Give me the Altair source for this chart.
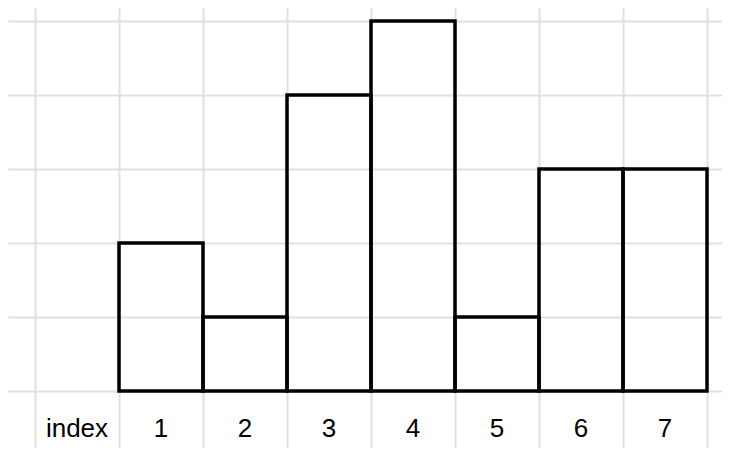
import altair as alt
import pandas as pd

# Data
indices = [1, 2, 3, 4, 5, 6, 7]
values = [2, 1, 4, 5, 1, 3, 3]
header_label = "index"
tick_labels = ["1", "2", "3", "4", "5", "6", "7"]

bars_df = pd.DataFrame({"index": indices, "value": values})
labels_df = pd.DataFrame({
    "col": list(range(len(tick_labels) + 1)),
    "label": [header_label] + tick_labels,
})

W, H = 714, 440
# scale domains chosen so that columns are 84px wide and rows 74px tall
x_scale = alt.Scale(domain=[(8 - 35) / 84, (722 - 35) / 84], nice=False, zero=False)
y_scale = alt.Scale(domain=[(391 - 448) / 74, (391 - 8) / 74], nice=False, zero=False)

grid_color = "#e0e0e0"

bars = alt.Chart(bars_df).transform_calculate(
    index_end="datum.index + 1"
).mark_bar(
    fillOpacity=0, stroke="black", strokeWidth=3.5, clip=False
).encode(
    x=alt.X("index:Q", scale=x_scale,
            axis=alt.Axis(values=list(range(0, 9)), grid=True, gridColor=grid_color,
                          gridWidth=2, labels=False, ticks=False, domain=False,
                          title=None)),
    x2="index_end:Q",
    y=alt.Y("value:Q", scale=y_scale,
            axis=alt.Axis(values=list(range(0, 6)), grid=True, gridColor=grid_color,
                          gridWidth=2, labels=False, ticks=False, domain=False,
                          title=None)),
    y2=alt.datum(0),
)

texts = alt.Chart(labels_df).transform_calculate(
    center="datum.col + 0.5"
).mark_text(
    font="Liberation Sans", fontSize=26, color="black", baseline="alphabetic", align="center"
).encode(
    x=alt.X("center:Q", scale=x_scale),
    y=alt.datum(-0.62),
    text="label:N",
)

chart = alt.layer(bars, texts).properties(
    width=W, height=H, padding=0, autosize=alt.AutoSizeParams(type="none")
).configure_view(stroke=None)

chart.save("out.html", embed_options={"renderer": "svg", "actions": False})
